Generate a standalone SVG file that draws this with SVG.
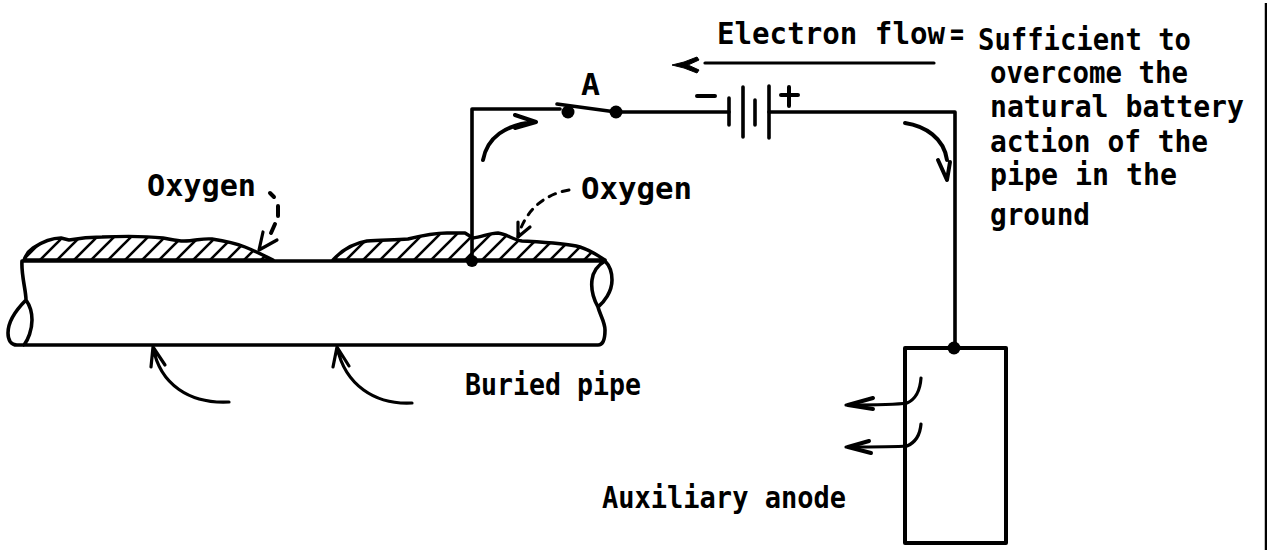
<svg xmlns="http://www.w3.org/2000/svg" width="1267" height="550" viewBox="0 0 1267 550">
<defs>
<pattern id="hatch" patternUnits="userSpaceOnUse" width="17" height="17" patternTransform="translate(22 261)"><path d="M-4 4L4 -4M-4 21L21 -4M13 21L21 13" stroke="#000" stroke-width="2.600" fill="none"/></pattern>
</defs>
<style>
text{font-family:"DejaVu Sans Mono","Liberation Mono",monospace;font-size:30px;font-weight:700;fill:#000}
.w{fill:none;stroke:#000;stroke-width:3.6;stroke-linecap:round;stroke-linejoin:round}
.t{fill:none;stroke:#000;stroke-width:3.2;stroke-linecap:round;stroke-linejoin:round}
.h{fill:none;stroke:#000;stroke-width:4;stroke-linecap:round;stroke-linejoin:round}
.m{stroke:#000;stroke-width:3.4;stroke-linejoin:round;fill:url(#hatch)}
</style>
<rect width="1267" height="550" fill="#fff"/>
<g id="pipe">
<path class="m" d="M24 260C27 252 30 250 33 248C42 242 52 238 61 238L69 240C80 238 90 237 102 237C125 236 145 236 163 238C170 239 176 241 184 241C195 241 203 238 212 239C225 241 235 243 245 247C255 251 265 256 273 260Z"/>
<path class="m" d="M333 260C342 250 355 243 367 241C380 240 395 240 408 239C420 236 433 233 447 233H465L473 238C482 237 490 233 498 233C507 234 513 240 522 241C540 242 565 243 580 247C590 250 597 255 605 260Z"/>
<path class="w" d="M22 261H605C610 266 612 272 612 280C612 292 604 302 598 307C593 298 591 288 592 280C593 272 598 265 605 261M598 307C600 315 605 322 605 330C605 337 604 345 598 345H17C11 345 8 340 8 333C8 320 18 308 26 300C26 290 21 275 22 261M26 300C31 307 32 314 32 320C32 330 28 340 24 345"/>
<circle cx="472" cy="261" r="6" fill="#000"/>
</g>
<g id="switch">
<circle cx="568" cy="112" r="6.500" fill="#000"/><circle cx="616" cy="112" r="6.500" fill="#000"/>
<path class="w" d="M557 104L616 112"/>
</g>
<g id="battery">
<path class="w" d="M729 98V125M743 87V137M755 100V125M769 86V138"/>
<path class="h" d="M697 96H715M781 95H798M789 87V106"/>
</g>
<g id="anode"><rect x="905" y="348" width="101" height="195" class="h" fill="none"/><circle cx="954" cy="348" r="6.500" fill="#000"/></g>
<g id="connectors">
<path class="w" d="M472 261V109H560M616 112H729M769 112H955V348"/>
<path class="t" d="M705 63H934"/><path d="M672 65L684 62L697 57L699 60L688 65L699 70L697 73L684 68Z" fill="#000" stroke="#000" stroke-linejoin="round"/>
<path class="h" d="M483 160C487 138 505 124 536 122M515 115L536 122L515 128"/>
<path class="h" d="M905 123C925 126 944 138 947 160M938 160L947 180L950 162"/>
<path class="h" d="M270 193L274 197M278 206V216M275 224L271 233"/><path class="t" d="M263 232L259 250L277 240"/>
<path class="h" stroke-dasharray="7 7" style="stroke-width:3" d="M569 190C545 194 525 210 518 237"/><path class="t" d="M518 222L518 237L530 227"/>
<path class="t" d="M229 402C190 404 160 385 153 347M151 367L153 347L165 365"/>
<path class="t" d="M412 403C375 405 345 385 337 347M333 367L337 347L349 366"/>
<path class="t" d="M921 378C920 392 914 400 907 403C895 405 870 405 846 405"/><path class="h" d="M873 398L848 405L873 409"/>
<path class="t" d="M921 424C920 436 914 443 907 446C895 447 870 447 846 447"/><path class="h" d="M869 441L848 447L871 453"/>
</g>
<g id="labels">
<text x="717" y="44" textLength="228" lengthAdjust="spacingAndGlyphs">Electron flow</text>
<text x="950" y="44" textLength="14" lengthAdjust="spacingAndGlyphs">=</text>
<text x="978" y="50" textLength="213" lengthAdjust="spacingAndGlyphs">Sufficient to</text>
<text x="990" y="83" textLength="198" lengthAdjust="spacingAndGlyphs">overcome the</text>
<text x="990" y="117" textLength="254" lengthAdjust="spacingAndGlyphs">natural battery</text>
<text x="990" y="152" textLength="218" lengthAdjust="spacingAndGlyphs">action of the</text>
<text x="990" y="185" textLength="187" lengthAdjust="spacingAndGlyphs">pipe in the</text>
<text x="990" y="225" textLength="100" lengthAdjust="spacingAndGlyphs">ground</text>
<text x="581" y="95" textLength="19" lengthAdjust="spacingAndGlyphs">A</text>
<text x="147" y="196" textLength="109" lengthAdjust="spacingAndGlyphs">Oxygen</text>
<text x="581" y="199" textLength="111" lengthAdjust="spacingAndGlyphs">Oxygen</text>
<text x="465" y="395" textLength="176" lengthAdjust="spacingAndGlyphs">Buried pipe</text>
<text x="602" y="508" textLength="244" lengthAdjust="spacingAndGlyphs">Auxiliary anode</text>
</g>
<path d="M1266 3V550" fill="none" stroke="#000" stroke-width="2.500"/>
</svg>
